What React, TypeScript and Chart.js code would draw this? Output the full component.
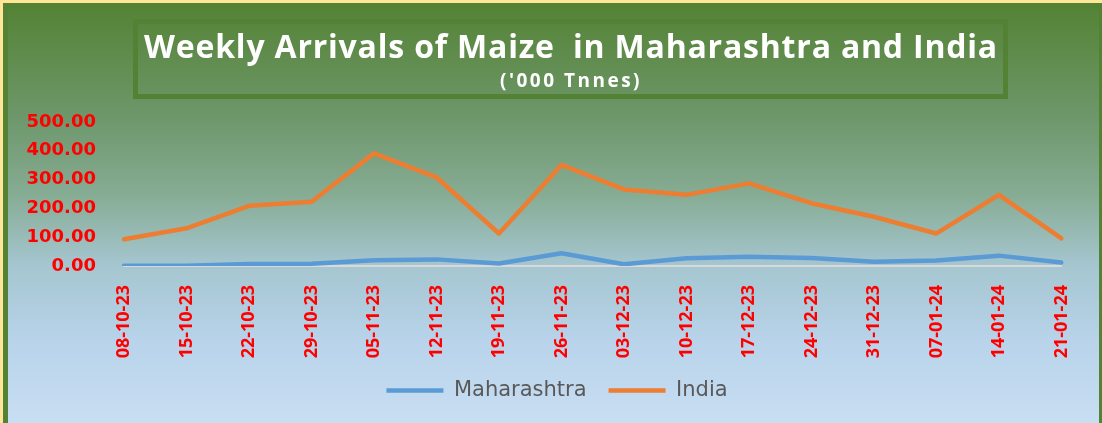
import React, { useEffect, useRef } from "react";
import { Chart, registerables } from "chart.js";

Chart.register(...registerables);

const weeks = [
  "08-10-23", "15-10-23", "22-10-23", "29-10-23", "05-11-23", "12-11-23",
  "19-11-23", "26-11-23", "03-12-23", "10-12-23", "17-12-23", "24-12-23",
  "31-12-23", "07-01-24", "14-01-24", "21-01-24",
];
const maharashtra = [1, 1, 7, 8, 20, 23, 9, 44, 6, 27, 32, 28, 15, 19, 36, 12];
const india = [93, 131, 209, 223, 391, 308, 113, 351, 266, 247, 287, 218, 171, 113, 247, 96];
const seriesNames = ["Maharashtra", "India"];
const yMin = 0;
const yMax = 500;
const yStep = 100;
const titleText = "Weekly Arrivals of Maize  in Maharashtra and India";
const subtitleText = "('000 Tnnes)";

const W = 1102;
const H = 423;

const backgroundPlugin = {
  id: "bgFrame",
  beforeDraw(chart: any) {
    const { ctx, width, height } = chart;
    ctx.save();
    ctx.fillStyle = "#ffe699";
    ctx.fillRect(0, 0, width, height);
    ctx.fillStyle = "#548235";
    ctx.fillRect(3, 3, width - 3, height - 3);
    const g = ctx.createLinearGradient(0, 8, 0, height);
    g.addColorStop(0, "#558336");
    g.addColorStop(0.27, "#6e986c");
    g.addColorStop(0.45, "#86ac94");
    g.addColorStop(0.62, "#a5c6d0");
    g.addColorStop(0.8, "#b8d3ea");
    g.addColorStop(1, "#c8def3");
    ctx.fillStyle = g;
    ctx.fillRect(8, 8, width - 8 - 3, height - 8);
    ctx.restore();
  },
};

const legendShiftPlugin = {
  id: "legendShift",
  afterLayout(chart: any) {
    const lg = chart.legend;
    if (lg) {
      lg.left += 15;
      lg.right += 15;
    }
  },
};

const titlePlugin = {
  id: "titleBox",
  afterDraw(chart: any) {
    const { ctx } = chart;
    ctx.save();
    ctx.strokeStyle = "#548235";
    ctx.lineWidth = 5;
    ctx.strokeRect(135.5, 21.5, 870, 75);
    ctx.fillStyle = "#ffffff";
    ctx.textAlign = "center";
    ctx.textBaseline = "alphabetic";
    ctx.font = "bold 32px 'Open Sans'";
    (ctx as any).letterSpacing = "0.8px";
    ctx.fillText(titleText, 571, 58);
    ctx.font = "bold 19px 'Open Sans'";
    (ctx as any).letterSpacing = "2.5px";
    ctx.fillText(subtitleText, 571, 87);
    ctx.restore();
  },
};

export default function App() {
  const ref = useRef<HTMLCanvasElement | null>(null);

  useEffect(() => {
    if (!ref.current) return;
    const chart = new Chart(ref.current, {
      type: "line",
      data: {
        labels: weeks,
        datasets: [
          {
            label: seriesNames[0],
            data: maharashtra,
            borderColor: "#5b9bd5",
            backgroundColor: "#5b9bd5",
            borderWidth: 4.5,
            pointRadius: 0,
            tension: 0,
            borderJoinStyle: "round",
            borderCapStyle: "round",
          },
          {
            label: seriesNames[1],
            data: india,
            borderColor: "#ed7d31",
            backgroundColor: "#ed7d31",
            borderWidth: 4.5,
            pointRadius: 0,
            tension: 0,
            borderJoinStyle: "round",
            borderCapStyle: "round",
          },
        ],
      },
      options: {
        responsive: false,
        animation: false,
        layout: { padding: { top: 122, left: 18, right: 36, bottom: 12 } },
        plugins: {
          title: { display: false },
          tooltip: { enabled: false },
          legend: {
            display: true,
            position: "bottom",
            align: "center",
            labels: {
              usePointStyle: true,
              pointStyle: "line",
              pointStyleWidth: 57,
              boxHeight: 21,
              padding: 22,
              color: "#595959",
              font: { family: "'DejaVu Sans'", size: 21 },
            },
          },
        },
        scales: {
          x: {
            type: "category",
            offset: false,
            grid: { display: false, drawTicks: false },
            border: { display: true, color: "#d9d9d9", width: 2 },
            ticks: {
              autoSkip: false,
              minRotation: 90,
              maxRotation: 90,
              padding: 19,
              color: "#ff0000",
              font: { family: "'Open Sans'", size: 18, weight: "bold" },
            },
            afterFit(scale: any) {
              scale.height = 92;
            },
          },
          y: {
            min: yMin,
            max: yMax,
            grid: { display: false, drawTicks: false },
            border: { display: false },
            ticks: {
              stepSize: yStep,
              padding: 28,
              color: "#ff0000",
              font: { family: "'DejaVu Sans'", size: 18, weight: "bold" },
              callback: (v: any) => Number(v).toFixed(2),
            },
            afterFit(scale: any) {
              scale.width = 106;
            },
          },
        },
      },
      plugins: [backgroundPlugin, legendShiftPlugin, titlePlugin],
    } as any);
    return () => chart.destroy();
  }, []);

  return (
    <div style={{ position: "fixed", left: 0, top: 0, width: W, height: H }}>
      <canvas ref={ref} width={W} height={H} style={{ display: "block" }} />
    </div>
  );
}
